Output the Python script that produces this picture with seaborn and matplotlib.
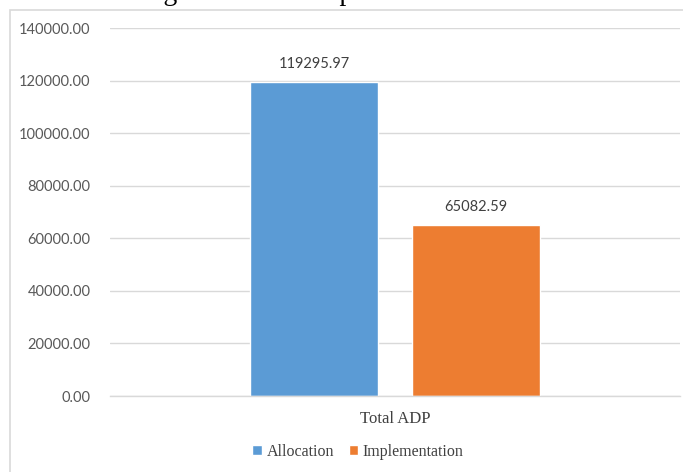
import matplotlib
matplotlib.use("Agg")
import matplotlib.pyplot as plt
import seaborn as sns
import pandas as pd
from matplotlib.patches import Rectangle, Patch

categories = ["Total ADP", "Total ADP"]
series = ["Allocation", "Implementation"]
values = [119295.97, 65082.59]
colors = ["#5B9BD5", "#ED7D31"]
yticks = [0, 20000, 40000, 60000, 80000, 100000, 120000, 140000]

df = pd.DataFrame({"cat": categories, "series": series, "value": values})

sns.set_theme(style="white")
fig = plt.figure(figsize=(6.83, 4.72), dpi=100)
ax = fig.add_axes([110/683, (472-396)/472, 570/683, 368/472])

sns.barplot(data=df, x="cat", y="value", hue="series", palette=colors,
            width=0.5667, gap=0.208, ax=ax, saturation=1, legend=False)

ax.set_ylim(0, 140000)
ax.set_xlim(-0.5, 0.5)
ax.set_yticks(yticks)
ax.set_yticklabels([f"{v:.2f}" for v in yticks], fontsize=10.5, color="#595959",
                   family="Lato")
ax.tick_params(axis="y", length=0, pad=14)
ax.tick_params(axis="x", length=0, pad=11)
for lbl in ax.get_xticklabels():
    lbl.set_family("Liberation Serif")
    lbl.set_fontsize(12)
    lbl.set_color("#404040")
ax.set_xlabel("")
ax.set_ylabel("")
ax.yaxis.grid(True, color="#d9d9d9", linewidth=1)
ax.set_axisbelow(True)
for s in ["left", "right", "top"]:
    ax.spines[s].set_visible(False)
ax.spines["bottom"].set_color("#d9d9d9")
ax.spines["bottom"].set_linewidth(1)

for c in ax.containers:
    ax.bar_label(c, labels=[f"{v:.2f}" for v in c.datavalues], padding=8,
                 fontsize=10.5, color="#404040", family="Lato")

# legend
handles = [Patch(facecolor=col, label=s) for col, s in zip(colors, series)]
fig.legend(handles=handles, loc="center", bbox_to_anchor=(358/683, (472-452)/472),
           ncol=2, frameon=False, handlelength=0.6, handleheight=0.6,
           handletextpad=0.3, columnspacing=0.9,
           prop={"family": "Liberation Serif", "size": 11.5}, labelcolor="#404040")

# chart border
fig.patches.append(Rectangle((10/683, -0.05), 1.0, (472-10)/472 + 0.05,
                             transform=fig.transFigure, fill=False,
                             edgecolor="#d9d9d9", linewidth=1.2))

# title of the page, clipped at the top edge as in the reference
fig.text(350/683, (472-0.5)/472, "Figure 3: ADP Implementation Status",
         ha="center", va="baseline", fontsize=20, family="Liberation Serif",
         color="black")

fig.savefig("out.png", dpi=100)
